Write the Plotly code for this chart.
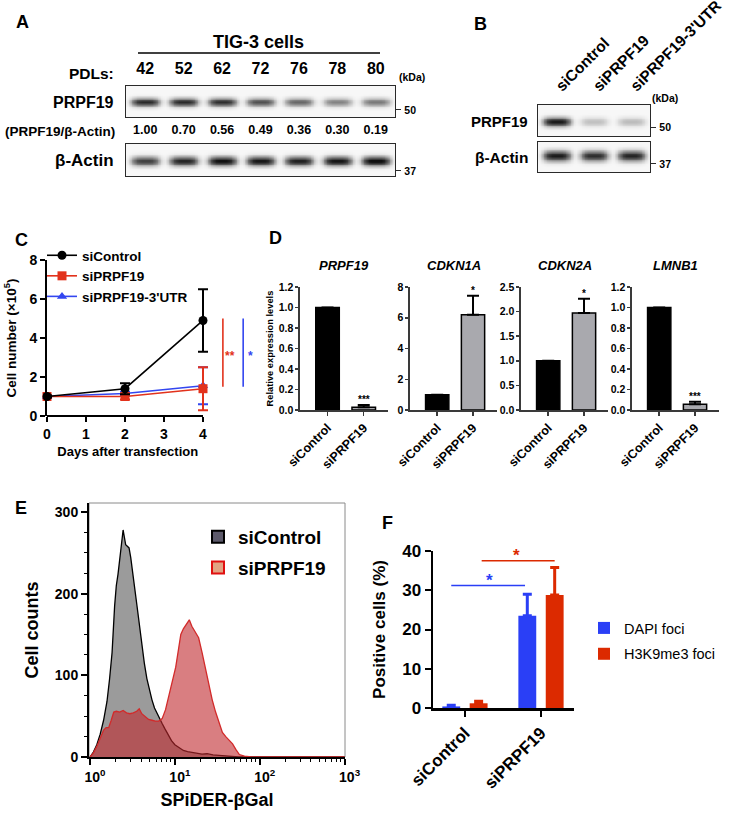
import numpy as np
import plotly.graph_objects as go

W, H = 740, 819
FONT = "Liberation Sans, Arial, Helvetica, sans-serif"

def px(x): return x / W
def py(y): return 1 - y / H
def xdom(a, b): return [a / W, b / W]
def ydom(top, bottom): return [1 - bottom / H, 1 - top / H]

# ---------------- DATA ----------------
# A: western blot, TIG-3 cells
pdl_labels = ['42', '52', '62', '72', '76', '78', '80']
ratio_labels = ['1.00', '0.70', '0.56', '0.49', '0.36', '0.30', '0.19']
a_prpf19_band = [0.86, 0.86, 0.84, 0.68, 0.58, 0.46, 0.50]
a_actin_band = [0.75, 0.88, 0.97, 0.94, 0.90, 0.95, 1.0]
a_marker_kda = ['50', '37']
a_marker_pos = [0.23, 0.16]

# B: western blot, siRNA
b_lanes = ['siControl', 'siPRPF19', "siPRPF19-3'UTR"]
b_prpf19_band = [0.95, 0.22, 0.24]
b_actin_band = [0.92, 0.84, 0.88]
b_marker_kda = ['50', '37']
b_marker_pos = [0.29, 0.27]

# C: growth curve
days = [0, 2, 4]
c_ctrl = [1.0, 1.4, 4.9]
c_ctrl_err = [0.05, 0.28, 1.6]
c_si = [1.0, 1.0, 1.4]
c_si_err = [0.05, 0.15, 1.1]
c_utr = [1.0, 1.15, 1.55]
c_utr_err = [0.05, 0.1, 0.95]
c_sig_x = [4.51, 5.03]
c_sig_y = [1.5, 5.0]
c_sig_text = ['**', '*']

# D: qPCR
d_genes = ['PRPF19', 'CDKN1A', 'CDKN2A', 'LMNB1']
d_groups = ['siControl', 'siPRPF19']
d_vals = [[1.0, 0.027], [1.0, 6.2], [1.0, 1.97], [1.0, 0.055]]
d_errs = [[float('nan'), 0.022], [float('nan'), 1.23], [float('nan'), 0.29], [float('nan'), 0.026]]
d_sig = ['***', '*', '*', '***']
d_ymax = [1.2, 8, 2.5, 1.2]
d_dtick = [0.2, 2, 0.5, 0.2]
d_fmt = ['.1f', 'd', '.1f', '.1f']

# E: flow cytometry histogram (x as log10 intensity)
e_ctrl_log10 = [0.00, 0.04, 0.08, 0.12, 0.16, 0.20, 0.23, 0.26, 0.29, 0.31, 0.33, 0.35, 0.37, 0.39,
                0.40, 0.42, 0.44, 0.46, 0.48, 0.50, 0.52, 0.55, 0.58, 0.61, 0.64, 0.67, 0.70, 0.73,
                0.76, 0.79, 0.82, 0.85, 0.88, 0.92, 0.96, 1.00, 1.05, 1.10, 1.15, 1.20, 1.27, 1.32,
                1.38, 1.45, 1.52, 1.58, 1.65, 1.75, 3.00]
e_ctrl_counts = [0, 6, 15, 28, 45, 68, 95, 128, 185, 210, 224, 245, 262, 278,
                 272, 260, 258, 256, 244, 230, 212, 188, 162, 135, 115, 96, 82, 70,
                 60, 53, 47, 41, 35, 27, 20, 15, 11, 8, 6.5, 5.5, 4.5, 3.5,
                 4, 2.5, 2, 1.5, 0.5, 0, 0]
e_si_log10 = [0.00, 0.04, 0.08, 0.12, 0.16, 0.19, 0.22, 0.25, 0.28, 0.31, 0.35, 0.39, 0.43, 0.47,
              0.51, 0.55, 0.58, 0.61, 0.65, 0.69, 0.73, 0.77, 0.81, 0.85, 0.89, 0.93, 0.97, 1.01,
              1.04, 1.07, 1.10, 1.13, 1.17, 1.20, 1.24, 1.28, 1.32, 1.36, 1.40, 1.44, 1.48, 1.52,
              1.56, 1.60, 1.64, 1.68, 1.72, 1.76, 1.82, 1.90, 3.00]
e_si_counts = [0, 5, 13, 24, 33, 36, 36, 45, 55, 56, 55, 57, 54, 53,
               54, 56, 59, 53, 49, 46, 45, 44, 44, 47, 58, 75, 92, 110,
               130, 150, 157, 162, 168, 160, 152, 146, 128, 108, 88, 70, 55, 43,
               30, 25, 21, 16, 9, 3, 1, 0, 0]
e_xticks = [1, 10, 100, 1000]
e_xticktext = ['10<sup>0</sup>', '10<sup>1</sup>', '10<sup>2</sup>', '10<sup>3</sup>']

# F: foci-positive cells
f_groups = ['siControl', 'siPRPF19']
f_dapi = [0.4, 23.5]
f_dapi_err = [0.3, 5.5]
f_h3 = [1.2, 28.8]
f_h3_err = [0.5, 7.0]
f_sig_y = [31.2, 37.5]

# ---------------- STYLE ----------------
BLUE_C = '#3346f0'
RED_C = '#e2321c'
BLUE_F = '#2a3ff6'
RED_F = '#dc2a00'
GRAY_BAR = '#a9a9ae'
C_XMAX = 4.14   # a little room so the day-4 error-bar caps are not clipped
C_YMAX = 8


def bfont(size, color='black', weight='bold'):
    return dict(family=FONT, size=size, color=color, weight=weight)


def blot(intens, yc, sy, nx_per=24, ny=40):
    n = len(intens)
    xs = np.linspace(-0.5, n - 0.5, n * nx_per)
    ys = np.linspace(0, 1, ny)
    z = np.full((ny, len(xs)), 0.03)
    for i, a in enumerate(intens):
        lane = np.exp(-np.abs((xs - i) / 0.37) ** 4)
        band = np.exp(-((ys - yc) / sy) ** 2)
        z += a * np.outer(band, lane)
    return xs, ys, np.clip(z, 0, 1)


BLOT_CS = [[0, '#ffffff'], [0.5, '#808080'], [1, '#101010']]

fig = go.Figure()

for (intens, yc, sy, ax) in [(a_prpf19_band, 0.48, 0.13, ''), (a_actin_band, 0.47, 0.14, '2'),
                              (b_prpf19_band, 0.46, 0.14, '3'), (b_actin_band, 0.54, 0.17, '4')]:
    xs, ys, z = blot(intens, yc, sy)
    fig.add_trace(go.Heatmap(x=xs, y=ys, z=z, colorscale=BLOT_CS, zmin=0, zmax=1, showscale=False,
                             zsmooth='best', hoverinfo='skip', xaxis='x' + ax, yaxis='y' + ax))

# C traces
for name, vals, err, color, sym, rank in [("siPRPF19-3'UTR", c_utr, c_utr_err, BLUE_C, 'triangle-up', 3),
                                          ('siPRPF19', c_si, c_si_err, RED_C, 'square', 2),
                                          ('siControl', c_ctrl, c_ctrl_err, 'black', 'circle', 1)]:
    fig.add_trace(go.Scatter(x=days, y=vals, name=name, mode='lines+markers', cliponaxis=False,
                             line=dict(color=color, width=1.6),
                             marker=dict(symbol=sym, size=9, color=color),
                             error_y=dict(type='data', array=err, color=color, thickness=2, width=5),
                             legendrank=rank, legend='legend',
                             xaxis='x5', yaxis='y5'))

# D traces
for i in range(4):
    ax = str(6 + i)
    fig.add_trace(go.Bar(x=[0, 1], y=d_vals[i], width=0.65, showlegend=False,
                         marker=dict(color=['black', GRAY_BAR], line=dict(color='black', width=1.5)),
                         error_y=dict(type='data', array=d_errs[i], arrayminus=[0, 0], symmetric=False,
                                      color='black', thickness=2, width=6),
                         xaxis='x' + ax, yaxis='y' + ax))

# E traces
fig.add_trace(go.Scatter(x=[10 ** v for v in e_ctrl_log10], y=e_ctrl_counts, mode='lines', fill='tozeroy',
                         fillcolor='#9b9b9b', line=dict(color='black', width=1.3), showlegend=False,
                         xaxis='x10', yaxis='y10'))
fig.add_trace(go.Scatter(x=[10 ** v for v in e_si_log10], y=e_si_counts, mode='lines', fill='tozeroy',
                         fillcolor='rgba(192,40,45,0.6)', line=dict(color='#d22a2a', width=1.3),
                         showlegend=False, xaxis='x10', yaxis='y10'))
fig.add_trace(go.Bar(x=[None], y=[None], name='siControl', legend='legend2', legendgroup='e1',
                     marker=dict(color='#5d5a6b', line=dict(color='black', width=2)),
                     xaxis='x10', yaxis='y10'))
fig.add_trace(go.Bar(x=[None], y=[None], name='siPRPF19', legend='legend2', legendgroup='e2',
                     marker=dict(color='#e2a383', line=dict(color='#e01010', width=2)),
                     xaxis='x10', yaxis='y10'))

# F traces
F_OFF = 0.18
F_W = 0.235
fig.add_trace(go.Bar(x=[0, 1], y=f_dapi, name='DAPI foci', offset=-F_OFF - F_W / 2, width=F_W,
                     marker=dict(color=BLUE_F, line=dict(width=0)), legend='legend3', legendgroup='f1',
                     error_y=dict(type='data', array=f_dapi_err, arrayminus=[0, 0], symmetric=False,
                                  color=BLUE_F, thickness=3, width=4.5),
                     xaxis='x11', yaxis='y11'))
fig.add_trace(go.Bar(x=[0, 1], y=f_h3, name='H3K9me3 foci', offset=F_OFF - F_W / 2, width=F_W,
                     marker=dict(color=RED_F, line=dict(width=0)), legend='legend3', legendgroup='f2',
                     error_y=dict(type='data', array=f_h3_err, arrayminus=[0, 0], symmetric=False,
                                  color=RED_F, thickness=3, width=4.5),
                     xaxis='x11', yaxis='y11'))

# ---------------- AXES ----------------
def mk(*parts, **kw):
    d = dict(showgrid=False, zeroline=False, fixedrange=True)
    for p in parts:
        d.update(p)
    d.update(kw)
    return d


def blot_axes(xd, yd, xanchor, yanchor, n, ticktext, tfont, mpos, mtxt, angle=0, standoff=2, labels=True):
    xa = mk(domain=xd, anchor=yanchor, range=[-0.5, n - 0.5], side='top', ticks='',
            tickvals=list(range(n)), ticktext=ticktext, tickfont=tfont, tickangle=angle,
            showticklabels=labels,
            showline=True, mirror=True, linecolor='#2a2a2a', linewidth=1.2, ticklabelstandoff=standoff)
    ya = mk(domain=yd, anchor=xanchor, range=[0, 1], side='right', showline=True, mirror=True,
            linecolor='#2a2a2a', linewidth=1.2, ticks='outside', ticklen=5, tickwidth=1,
            tickcolor='#2a2a2a', tickvals=[mpos], ticktext=[mtxt], tickfont=bfont(10.5),
            ticklabelstandoff=1)
    return xa, ya


lay = {}
lay['xaxis'], lay['yaxis'] = blot_axes(xdom(126, 395), ydom(86, 117), 'x', 'y', 7, pdl_labels,
                                       bfont(16), a_marker_pos[0], a_marker_kda[0], standoff=4)
lay['xaxis2'], lay['yaxis2'] = blot_axes(xdom(126, 395), ydom(144, 176), 'x2', 'y2', 7, ratio_labels,
                                         bfont(12.5), a_marker_pos[1], a_marker_kda[1], standoff=4)
lay['xaxis3'], lay['yaxis3'] = blot_axes(xdom(538, 650), ydom(105, 136), 'x3', 'y3', 3, b_lanes,
                                         bfont(15.5), b_marker_pos[0], b_marker_kda[0], angle=-45, standoff=3)
lay['xaxis4'], lay['yaxis4'] = blot_axes(xdom(538, 650), ydom(142, 172), 'x4', 'y4', 3, b_lanes,
                                         bfont(10), b_marker_pos[1], b_marker_kda[1], labels=False)

axline = dict(showline=True, linecolor='black', linewidth=2, ticks='outside', tickcolor='black',
              tickwidth=2, ticklen=5)
# C  (x-axis line drawn as a shape from day 0 to day 4; range leaves room for caps)
C_X0, C_X1 = 47, 47 + (203 - 47) * C_XMAX / 4
lay['xaxis5'] = mk(axline, domain=xdom(C_X0, C_X1), anchor='y5', range=[0, C_XMAX],
                   tickvals=[0, 1, 2, 3, 4], showline=False,
                   tickfont=bfont(14),
                   title=dict(text='Days after transfection', font=bfont(13), standoff=6))
lay['yaxis5'] = mk(axline, domain=ydom(260, 416), anchor='x5', range=[0, C_YMAX], dtick=2,
                   tickfont=bfont(14),
                   title=dict(text='Cell number (×10<sup>5</sup>)', font=bfont(13.5), standoff=10))
# D
for i, (a, b) in enumerate([(300, 388), (410, 497), (521, 608), (632, 719)]):
    ax = str(6 + i)
    lay['xaxis' + ax] = mk(domain=xdom(a, b), anchor='y' + ax, range=[-0.76, 1.67],
                           showline=True, linecolor='#3a3a3a', linewidth=1.6, ticks='outside',
                           tickcolor='#3a3a3a', tickwidth=1.5, ticklen=4,
                           tickvals=[0, 1], ticktext=d_groups, tickangle=-45, tickfont=bfont(12.5))
    yd = mk(domain=ydom(287, 410), anchor='x' + ax, range=[0, d_ymax[i]], dtick=d_dtick[i],
            tickformat=d_fmt[i], showline=True, linecolor='#3a3a3a', linewidth=1.6, ticks='outside',
            tickcolor='#3a3a3a', tickwidth=1.5, ticklen=3, tickfont=bfont(10.5))
    if i == 0:
        yd['title'] = dict(text='Relative expression levels', font=bfont(9.3), standoff=3)
    lay['yaxis' + ax] = yd

# E
minor_x = [m * 10 ** d for d in range(3) for m in range(2, 10)]
lay['xaxis10'] = mk(axline, domain=xdom(89, 345), anchor='y10', type='log',
                    range=[-0.012, 3.005], tickvals=e_xticks, ticktext=e_xticktext,
                    tickfont=bfont(14), ticklen=6, ticklabelshift=5,
                    minor=dict(tickvals=minor_x, ticks='outside', ticklen=3, tickwidth=1, tickcolor='black'),
                    title=dict(text='SPiDER-βGal', font=bfont(18), standoff=10))
lay['yaxis10'] = mk(axline, domain=ydom(503, 757), anchor='x10', range=[0, 311],
                    tickmode='linear', tick0=0, dtick=100, tickfont=bfont(14), ticklen=6,
                    minor=dict(tickmode='linear', tick0=0, dtick=25, ticks='outside', ticklen=3,
                               tickwidth=1, tickcolor='black'),
                    title=dict(text='Cell counts', font=bfont(18), standoff=12))
# F
lay['xaxis11'] = mk(axline, domain=xdom(433, 574), anchor='y11', range=[-0.42, 1.434],
                    tickvals=[0, 1], ticktext=f_groups, tickangle=-45, tickfont=bfont(17), ticklen=6,
                    linewidth=2.5)
lay['yaxis11'] = mk(axline, domain=ydom(551, 708), anchor='x11', range=[0, 40], dtick=10,
                    tickfont=bfont(17), ticklen=6, linewidth=2.5,
                    title=dict(text='Positive cells (%)', font=bfont(17), standoff=12))

# ---------------- ANNOTATIONS ----------------
ann = []


def A(text, x, y, size, xanchor='center', yanchor='middle', color='black', weight='bold', **kw):
    d = dict(text=text, x=x, y=y, xref=kw.pop('xref', 'paper'), yref=kw.pop('yref', 'paper'),
             xanchor=xanchor, yanchor=yanchor, showarrow=False, font=bfont(size, color, weight))
    d.update(kw)
    ann.append(d)


for letter, x, y in [('A', 22, 22), ('B', 480, 24), ('C', 21, 240), ('D', 275, 238), ('E', 21, 508), ('F', 387, 523)]:
    A(letter, px(x), py(y), 18)

A('TIG-3 cells', px(258), py(42), 18)
A('PDLs:', px(116), py(73), 15.5, xanchor='right')
A('(kDa)', px(397), py(77), 10.5, xanchor='left')
A('PRPF19', px(116), py(102), 16, xanchor='right')
A('(PRPF19/β-Actin)', px(117), py(132), 13.5, xanchor='right')
A('β-Actin', px(116), py(161), 17, xanchor='right')
A('(kDa)', px(650), py(98), 10.5, xanchor='left')
A('PRPF19', px(530), py(121), 15, xanchor='right')
A('β-Actin', px(530), py(157), 15.5, xanchor='right')

# C stars (domain coordinates so they may sit right of the axis range)
for sx, txt, col in zip(c_sig_x, c_sig_text, [RED_C, BLUE_C]):
    A(txt, (sx + 0.18) / C_XMAX, 3.1 / C_YMAX, 12, color=col, xref='x5 domain', yref='y5 domain')

# D titles + stars
for i in range(4):
    ax = str(6 + i)
    A('<i>' + d_genes[i] + '</i>', 0.5, py(266), 13, xref='x' + ax + ' domain')
    A(d_sig[i], 1, d_vals[i][1] + d_errs[i][1], 10, yanchor='bottom', xref='x' + ax, yref='y' + ax, yshift=-2)

# F stars
A('*', (-F_OFF + 1 - F_OFF) / 2, f_sig_y[0], 17, yanchor='bottom', color=BLUE_F, xref='x11', yref='y11', yshift=-6)
A('*', (F_OFF + 1 + F_OFF) / 2, f_sig_y[1], 17, yanchor='bottom', color=RED_F, xref='x11', yref='y11', yshift=-6)

# ---------------- SHAPES ----------------
shapes = [
    dict(type='line', xref='paper', yref='paper', x0=px(138), x1=px(380), y0=py(53), y1=py(53),
         line=dict(color='black', width=1.5)),
    dict(type='rect', xref='x10 domain', yref='y10 domain', x0=0, x1=1, y0=0, y1=1,
         line=dict(color='#8a8a8a', width=1), layer='below'),
    # C x-axis line (day 0 .. day 4)
    dict(type='line', xref='x5 domain', yref='y5 domain', x0=0, x1=days[-1] / C_XMAX, y0=0, y1=0,
         line=dict(color='black', width=2)),
]
for sx, col in zip(c_sig_x, [RED_C, BLUE_C]):
    shapes.append(dict(type='line', xref='x5 domain', yref='y5 domain', x0=sx / C_XMAX, x1=sx / C_XMAX,
                       y0=c_sig_y[0] / C_YMAX, y1=c_sig_y[1] / C_YMAX, line=dict(color=col, width=1.6)))
shapes.append(dict(type='line', xref='x11', yref='y11', x0=-F_OFF, x1=1 - F_OFF - 0.03,
                   y0=f_sig_y[0], y1=f_sig_y[0], line=dict(color=BLUE_F, width=1.6)))
shapes.append(dict(type='line', xref='x11', yref='y11', x0=F_OFF + 0.04, x1=1 + F_OFF,
                   y0=f_sig_y[1], y1=f_sig_y[1], line=dict(color=RED_F, width=1.6)))

fig.update_layout(
    width=W, height=H, margin=dict(l=0, r=0, t=0, b=0),
    paper_bgcolor='white', plot_bgcolor='white', template='none',
    font=dict(family=FONT, color='black'),
    barmode='overlay', hovermode=False,
    annotations=ann, shapes=shapes,
    legend=dict(x=px(42), y=py(240), xanchor='left', yanchor='top', bgcolor='rgba(0,0,0,0)',
                font=bfont(13.5), tracegroupgap=0, itemwidth=30),
    legend2=dict(x=px(198), y=py(518), xanchor='left', yanchor='top', bgcolor='rgba(0,0,0,0)',
                 font=bfont(19), tracegroupgap=3),
    legend3=dict(x=px(584), y=py(612), xanchor='left', yanchor='top', bgcolor='rgba(0,0,0,0)',
                 font=bfont(14.5, weight='normal'), tracegroupgap=4),
    **lay,
)

fig.write_html('out.html', config={'displayModeBar': False, 'staticPlot': True},
               post_script="document.body.style.margin='0px';")
